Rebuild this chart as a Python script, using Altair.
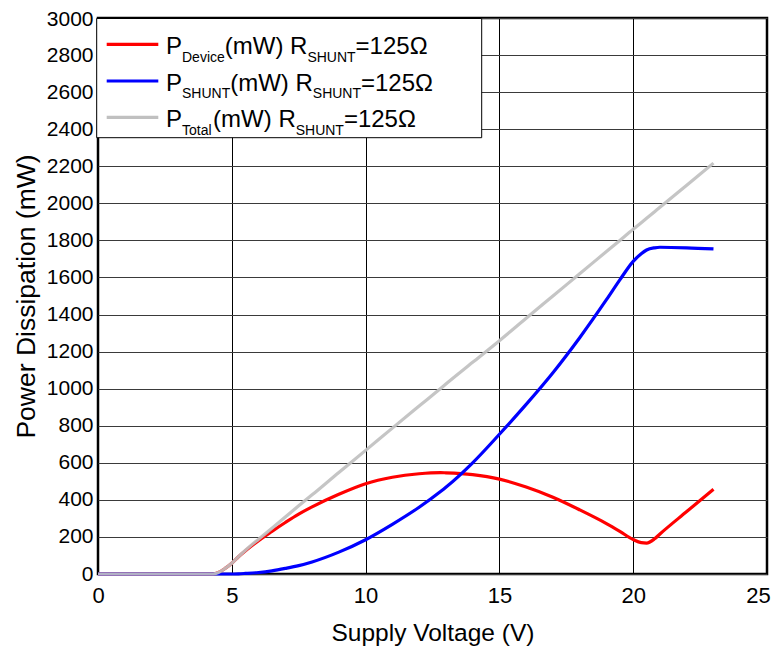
import altair as alt
import pandas as pd

# Supply voltage (V)
volts = [0, 4.3, 4.5, 4.75, 5, 5.25, 5.5, 6, 6.5, 7, 7.5, 8, 9, 10, 11, 12, 12.8,
         13, 14, 15, 16, 17, 18, 19, 19.5, 20, 20.3, 20.5, 20.8, 21, 22, 23]
# Power dissipation (mW)
p_device = [0, 0, 8, 30, 58, 93, 124, 180, 230, 278, 323, 362, 430, 487, 522, 541, 547,
            546, 536, 512, 469, 414, 346, 272, 230, 186, 169, 167, 190, 216, 337, 457]
p_shunt = [0, 0, 0, 0, 0, 1, 3, 8, 17, 30, 45, 65, 118, 185, 268, 360, 445,
           468, 600, 754, 915, 1086, 1275, 1480, 1587, 1687, 1728, 1748, 1760, 1763, 1760, 1754]
p_total = [0, 0, 8, 30, 58, 94, 127, 188, 247, 308, 368, 427, 548, 667, 787, 906, 1001,
           1025, 1142, 1259, 1380, 1500, 1620, 1740, 1800, 1860, 1895, 1919, 1955, 1979, 2098, 2217]

series_names = ["Device", "Shunt", "Total"]
series_colors = ["#FF0000", "#0000FF", "#C0C0C0"]

x_ticks = [0, 5, 10, 15, 20, 25]
y_ticks = list(range(0, 3001, 200))

rows = []
for name, vals in zip(series_names, [p_device, p_shunt, p_total]):
    for order, (v, p) in enumerate(zip(volts, vals)):
        rows.append({"V": v, "P": p, "series": name, "order": order})
df = pd.DataFrame(rows)

FONT = "Liberation Sans"

base = alt.Chart(df)

x_enc = alt.X("V:Q", scale=alt.Scale(domain=[0, 25], nice=False),
              axis=alt.Axis(values=x_ticks, title="Supply Voltage (V)", grid=True,
                            gridColor="#000000", gridWidth=1, ticks=False, domain=False,
                            labelFlush=False, format="d",
                            labelOffset={"condition": {"test": "datum.value >= 25", "value": -9},
                                         "value": 0},
                            labelFontSize=22, labelFont=FONT, labelColor="#000",
                            labelPadding=11, titleFontSize=24.5, titleFont=FONT,
                            titleFontWeight="normal", titleColor="#000", titlePadding=15))
y_enc = alt.Y("P:Q", scale=alt.Scale(domain=[0, 3000], nice=False),
              axis=alt.Axis(values=y_ticks, title="Power Dissipation (mW)", grid=True,
                            gridColor="#3a3a3a", gridWidth=1, ticks=False, domain=False,
                            labelFlush=False, format="d",
                            labelOffset={"condition": {"test": "datum.value >= 3000", "value": 1},
                                         "value": 0},
                            labelFontSize=21, labelFont=FONT, labelColor="#000",
                            labelPadding=5, titleFontSize=26.5, titleFont=FONT,
                            titleFontWeight="normal", titleColor="#000", titlePadding=6))

layers = []
for name, col in zip(series_names, series_colors):
    layers.append(
        base.transform_filter(alt.datum.series == name)
        .mark_line(strokeWidth=3.2, interpolate="monotone", color=col,
                   opacity=0.92 if name == "Total" else 1)
        .encode(x=x_enc, y=y_enc, order="order:Q")
    )

one = alt.Data(values=[{"k": 1}])
PL, PT = 98, 18  # page position of plot origin, used for legend placement

# legend box
layers.append(
    alt.Chart(one).mark_rect(fill="white", stroke="#000", strokeWidth=1)
    .encode(x=alt.value(96.7 - PL), x2=alt.value(481.7 - PL),
            y=alt.value(18.5 - PT), y2=alt.value(137.7 - PT))
)

legend_rows = [
    ("Device", 44.3, 54.0, 42.8),
    ("SHUNT", 81.0, 90.5, 48.2),
    ("Total", 117.3, 127.0, 31.1),
]
for (sub, ly, base_y, subw), col in zip(legend_rows, series_colors):
    layers.append(
        alt.Chart(one).mark_rule(color=col, strokeWidth=3.2)
        .encode(x=alt.value(106.7 - PL), x2=alt.value(158.3 - PL), y=alt.value(ly - PT))
    )
    segs = []
    x0 = 166.0
    segs.append(("P", x0, base_y, 24))
    x0 += 16.0
    segs.append((sub, x0, base_y + 7.7, 14))
    x0 += subw
    segs.append(("(mW) R", x0, base_y, 24))
    x0 += 82.6
    segs.append(("SHUNT", x0, base_y + 7.7, 14))
    x0 += 48.2
    segs.append(("=125Ω", x0, base_y, 24))
    for txt, tx, ty, fs in segs:
        layers.append(
            alt.Chart(one).mark_text(text=txt, align="left", baseline="alphabetic",
                                     font=FONT, fontSize=fs, color="#000")
            .encode(x=alt.value(tx - PL), y=alt.value(ty - PT))
        )

chart = alt.layer(*layers).properties(
    width=669, height=556,
    autosize=alt.AutoSizeParams(type="none"),
    padding={"left": 90, "top": 10, "right": 4, "bottom": 73},
).configure_view(stroke="#000", strokeWidth=2.5)

chart.save("out.html", embed_options={"renderer": "svg", "actions": False})
